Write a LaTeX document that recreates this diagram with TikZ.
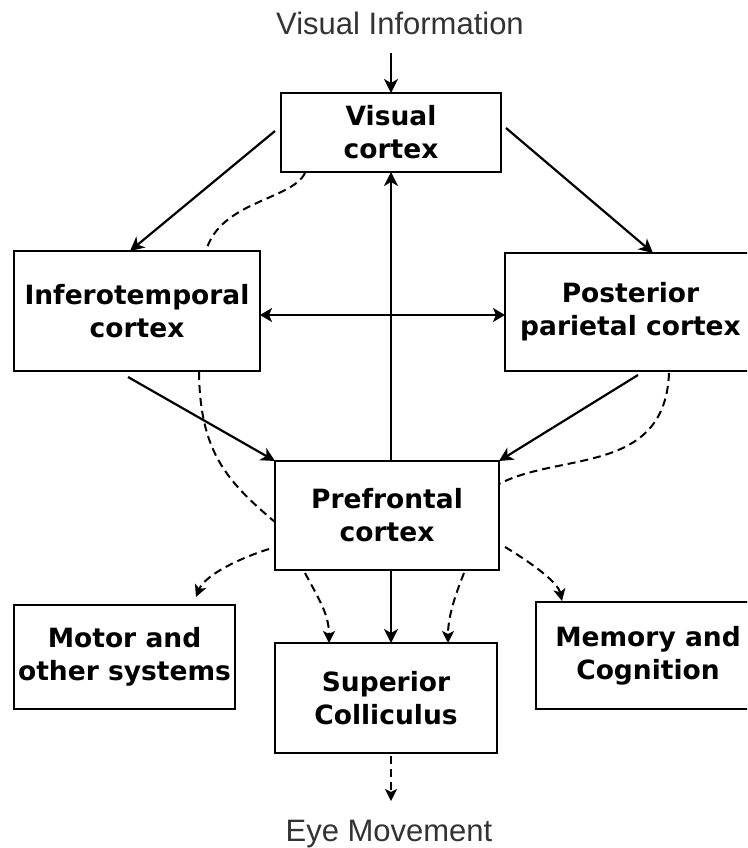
\documentclass[tikz,border=0pt]{standalone}
\usepackage{fontspec}
\newfontfamily\boxfont{DejaVu Sans}
\newfontfamily\capfont{Liberation Sans}
\usetikzlibrary{arrows.meta,calc}
\begin{document}
\begin{tikzpicture}[x=1pt,y=-1pt,
  region/.style={draw,line width=2.6pt,inner sep=0pt,outer sep=0pt,align=center,
    font=\boxfont\bfseries\fontsize{26.5}{33}\selectfont},
  link/.style={line width=2.2pt,-{Stealth[length=14pt,width=14pt,inset=4pt]}},
  twoway/.style={line width=2pt,{Stealth[length=12pt,width=14pt,inset=3pt]}-{Stealth[length=12pt,width=14pt,inset=3pt]}},
  weak/.style={line width=2pt,dash pattern=on 8pt off 5pt},
  weaklink/.style={weak,-{Stealth[length=12pt,width=12pt,inset=3pt]}},
  caption/.style={font=\capfont\fontsize{31}{31}\selectfont,text=black!80,inner sep=0pt,anchor=base}]
\useasboundingbox (0,0) rectangle (747,848);
\clip (0,0) rectangle (747,848);

% labels outside the boxes
\node[caption] (vi) at (400,35) {Visual Information};
\node[caption] (em) at (389,841) {Eye Movement};
\coordinate (vitail) at (391,53);
\coordinate (emtip) at (391,801);

% brain regions
\node[region,minimum width=220pt,minimum height=79pt]  (vc) at (391,132.5) {Visual\\cortex};
\node[region,minimum width=246pt,minimum height=120pt] (it) at (137,311)   {Inferotemporal\\cortex};
\node[region,minimum width=251pt,minimum height=118pt] (pp) at (630.5,312) {Posterior\\parietal cortex};
\node[region,minimum width=224pt,minimum height=109pt] (pf) at (387,515.5) {Prefrontal\\cortex};
\node[region,minimum width=221pt,minimum height=104pt] (mo) at (124.5,657) {Motor and\\other systems};
\node[region,minimum width=222pt,minimum height=110pt] (sc) at (386,698)   {Superior\\Colliculus};
\node[region,minimum width=224pt,minimum height=107pt] (mc) at (648,655.5) {Memory and\\Cognition};

% direct pathways
\draw[link] (vitail) -- (vitail |- vc.north);
\draw[link] ($(vc.west)+(-6,-1.5)$) -- ($(it.north)+(-7,0)$);
\draw[link] ($(vc.east)+(5,-4.5)$) -- ($(pp.north)+(22.5,0)$);
\draw[link] (vitail |- pf.north) -- (vitail |- vc.south);
\draw[twoway] ($(it.east)+(0,4)$) -- ($(pp.west)+(0,3)$);
\draw[link] ($(it.south)+(-9,6)$) -- (pf.north west);
\draw[link] ($(pp.south)+(7.5,4)$) -- (pf.north east);
\draw[link] (vitail |- pf.south) -- (vitail |- sc.north);
\draw[weaklink] ($(sc.south)+(5,3)$) -- (emtip);

% indirect pathways
\draw[weak] ($(vc.south west)+(24,1)$) .. controls +(-13,27) and +(14,-50) .. ($(it.north)+(69,0)$);
\draw[weak] ($(it.south)+(62,1)$) .. controls +(1,78) and +(-50,-42) .. ($(pf.west)+(0,6.5)$);
\draw[weak] ($(pp.south)+(38.5,2)$) .. controls +(-4,102) and +(61,-32) .. ($(pf.east)+(0,-31.5)$);
\draw[weaklink] ($(pf.south west)+(-6,-21)$) .. controls +(-29,9) and +(9,-22) .. ($(mo.north)+(71.5,-8)$);
\draw[weaklink] ($(pf.south west)+(30,3)$) .. controls +(15,28) and +(0,-28) .. ($(sc.north west)+(54,0)$);
\draw[weaklink] ($(pf.south east)+(-35,3)$) .. controls +(-10,25) and +(0,-25) .. ($(sc.north east)+(-49,0)$);
\draw[weaklink] ($(pf.east)+(6,31.5)$) .. controls +(30,18) and +(-4,-18) .. ($(mc.north west)+(26,-1)$);
\end{tikzpicture}
\end{document}
